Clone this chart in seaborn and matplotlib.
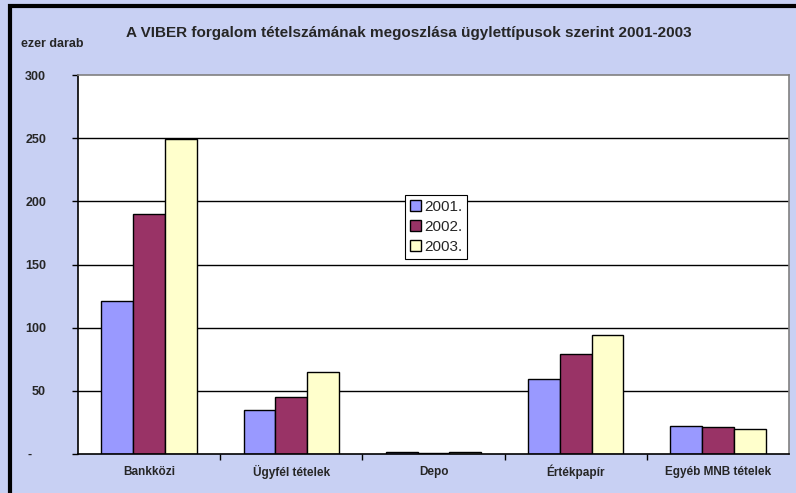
import pandas as pd
import matplotlib.pyplot as plt
import matplotlib.patches as mpatches
import seaborn as sns

# --- data (thousand items) ---
categories = ['Bankközi', 'Ügyfél tételek', 'Depo', 'Értékpapír', 'Egyéb MNB tételek']
years = ['2001.', '2002.', '2003.']
v2001 = [121, 35, 1.5, 59, 22.5]
v2002 = [190, 45, 1.0, 79, 21.5]
v2003 = [249, 65, 1.5, 94, 20.0]
y_ticks = [0, 50, 100, 150, 200, 250, 300]
y_tick_labels = ['-    ', '50', '100', '150', '200', '250', '300']

df = pd.DataFrame({
    'kategoria': categories * 3,
    'ev': [years[0]] * 5 + [years[1]] * 5 + [years[2]] * 5,
    'ertek': v2001 + v2002 + v2003,
})

colors = ['#9999FF', '#993366', '#FFFFCC']
bg = '#C8D0F3'

sns.set_style('white')
plt.rcParams['font.family'] = ['Liberation Sans', 'DejaVu Sans']

fig = plt.figure(figsize=(7.96, 4.93), dpi=100)
fig.patch.set_facecolor(bg)
ax = fig.add_axes([78 / 796, 1 - 454 / 493, 711 / 796, 379 / 493])

sns.barplot(data=df, x='kategoria', y='ertek', hue='ev', order=categories,
            hue_order=years, palette=colors, width=0.67, edgecolor='black',
            linewidth=1.0, saturation=1, ax=ax, legend=False, zorder=3)

ax.set_ylim(0, 300)
ax.set_xlim(-0.5, 4.5)
ax.set_facecolor('white')
ax.set_yticks(y_ticks)
ax.set_yticklabels(y_tick_labels, fontsize=9, fontweight='bold')
ax.set_xticks(range(len(categories)))
ax.set_xticklabels(categories, fontsize=8.5, fontweight='bold', va='center')
ax.set_xticks([0.5, 1.5, 2.5, 3.5], minor=True)
ax.tick_params(axis='x', which='major', bottom=True, length=0, pad=13)
ax.tick_params(axis='x', which='minor', bottom=True, length=4, width=1,
               color='black', direction='out')
ax.tick_params(axis='y', left=True, length=4, width=1, color='black',
               direction='out', pad=19)
ax.set_xlabel('')
ax.set_ylabel('')

for yv in y_ticks[1:-1]:
    ax.axhline(yv, color='black', lw=1, zorder=1)

ax.spines['left'].set_color('black')
ax.spines['bottom'].set_color('black')
ax.spines['top'].set_color('#808080')
ax.spines['right'].set_color('#808080')
for s in ax.spines.values():
    s.set_linewidth(1.2)
    s.set_zorder(4)

handles = [mpatches.Patch(facecolor=c, edgecolor='black', label=y) for c, y in zip(colors, years)]
leg = ax.legend(handles=handles, loc='upper left', bbox_to_anchor=(0.46, 0.683),
                borderaxespad=0, fontsize=11, frameon=True, fancybox=False,
                framealpha=1, edgecolor='black', handlelength=0.75,
                handleheight=0.75, handletextpad=0.2, borderpad=0.3,
                labelspacing=0.4)
leg.get_frame().set_linewidth(0.8)
leg.set_zorder(5)

fig.text(409 / 796, 1 - 33 / 493, 'A VIBER forgalom tételszámának megoszlása ügylettípusok szerint 2001-2003',
         ha='center', va='center', fontsize=11, fontweight='bold')
fig.text(21 / 796, 1 - 44 / 493, 'ezer darab', ha='left', va='center', fontsize=9, fontweight='bold')

# outer frame of the chart sheet
fig.patches.append(mpatches.Rectangle((10 / 796, -0.05), 1.1, 1 - 6 / 493 + 0.05,
                                      transform=fig.transFigure, fill=False,
                                      edgecolor='black', linewidth=3))

fig.savefig('out.png', dpi=100, facecolor=bg)
